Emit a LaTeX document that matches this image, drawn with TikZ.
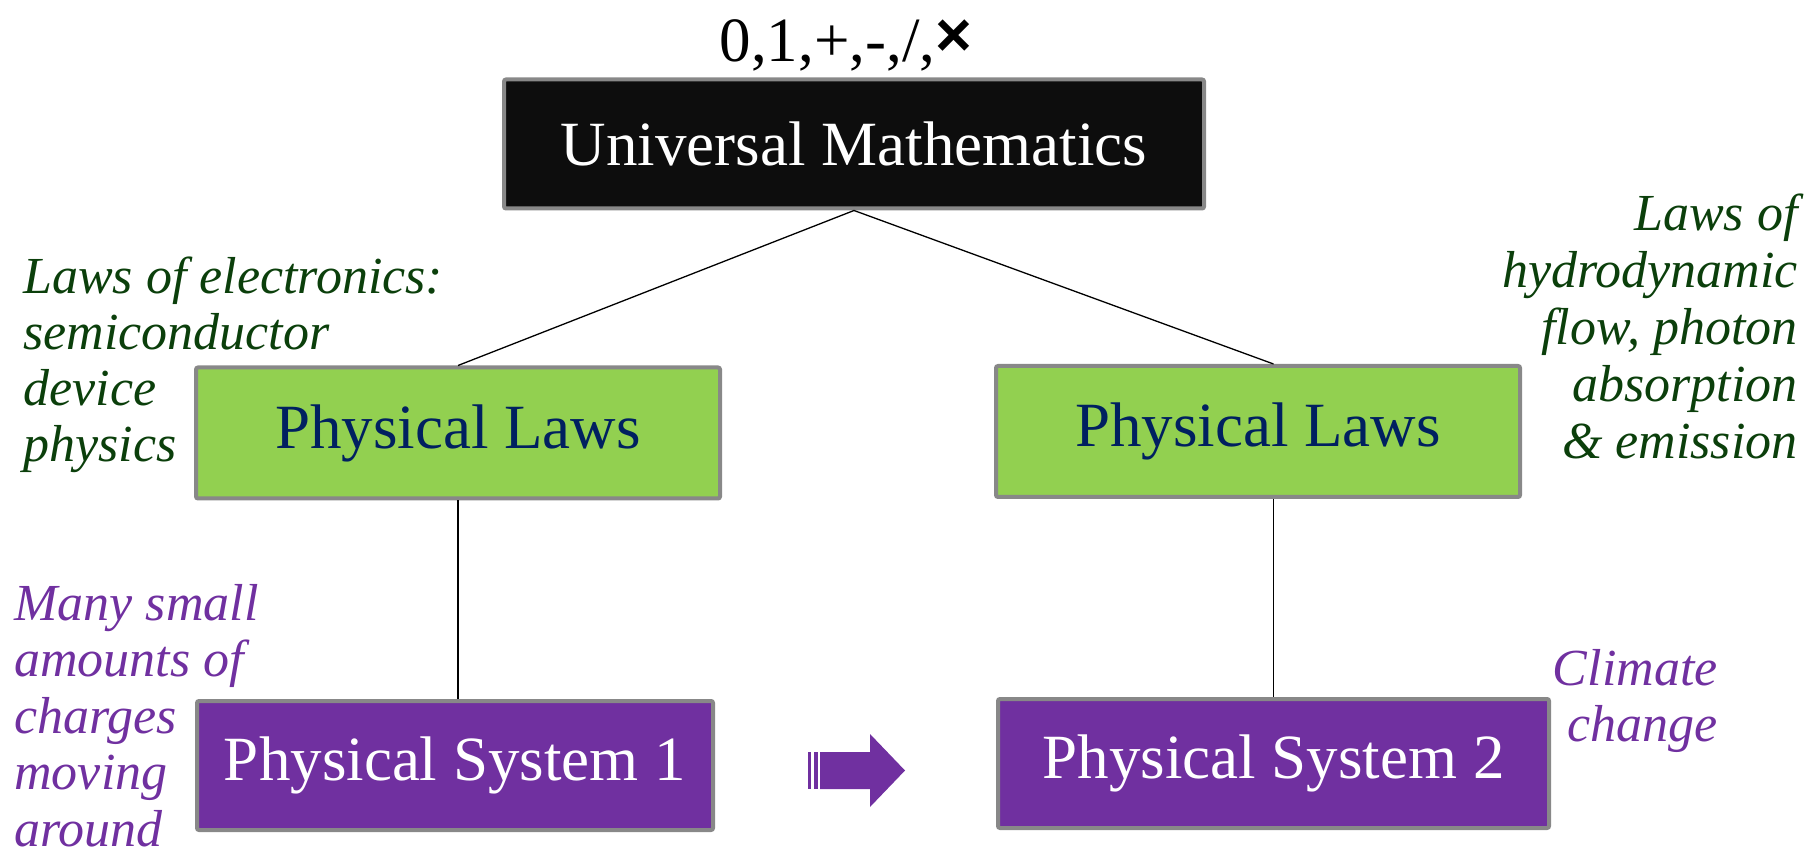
\documentclass[tikz,border=0pt]{standalone}
\usepackage{fontspec}
\setmainfont{Liberation Serif}
\newfontfamily\crossfont{Liberation Sans}
\definecolor{boxgray}{HTML}{888888}
\definecolor{lawgreen}{HTML}{92D050}
\definecolor{sysviolet}{HTML}{7030A0}
\definecolor{navytext}{HTML}{002060}
\definecolor{notegreen}{HTML}{0B3F0B}
\definecolor{mathblack}{HTML}{0D0D0D}
\tikzset{
  boxbase/.style={draw=boxgray, line width=2pt, rounded corners=1pt, inner sep=0pt,
    font=\fontsize{31.5pt}{36pt}\selectfont},
  mathbox/.style={boxbase, fill=mathblack, text=white, minimum width=350pt, minimum height=64.5pt},
  lawbox/.style={boxbase, fill=lawgreen, text=navytext, minimum height=65.5pt},
  sysbox/.style={boxbase, fill=sysviolet, text=white, minimum height=64.5pt},
  note/.style={inner sep=0pt, font=\fontsize{26pt}{28pt}\selectfont\itshape},
  link/.style={draw=black, line width=0.65pt},
}
\begin{document}
\begin{tikzpicture}[x=0.5pt,y=-0.5pt]
\useasboundingbox (0,0) rectangle (1818,854);
% boxes
\node[mathbox] (um) at (854,144) {Universal Mathematics};
\node[lawbox, minimum width=262pt] (gl) at (458,433) {Physical Laws};
\node[lawbox, minimum width=262pt] (gr) at (1258,431.5) {Physical Laws};
\node[sysbox, minimum width=258pt] (pl) at (455,765.5) {Physical System 1};
\node[sysbox, minimum width=275.5pt] (pr) at (1273.5,763.5) {Physical System 2};
% top label
\node[inner sep=0pt, anchor=base, font=\fontsize{31.5pt}{36pt}\selectfont] (ops) at (846,62)
  {0,1,+,-,/,{\crossfont\bfseries\raisebox{0.08em}{×}}};
% connectors
\draw[link] (um.south) -- (gl.north);
\draw[link] (um.south) -- (gr.north -| pr.north);
\draw[link] (gl.south) -- (gl.south |- pl.north);
\draw[link] (gr.south -| pr.north) -- (pr.north);
% notes
\node[note, text=notegreen, anchor=base west] (nl) at (23,294)
  {\vtop{\baselineskip=28pt\halign{#\hfil\cr Laws of electronics:\cr semiconductor\cr device\cr physics\cr}}};
\node[note, text=notegreen, anchor=base east] (nr) at (1798,231)
  {\vtop{\baselineskip=28.4pt\halign{\hfil#\cr Laws of\cr hydrodynamic\cr flow, photon\cr absorption\cr \& emission\cr}}};
\node[note, text=sysviolet, anchor=base west] (pnl) at (14,620)
  {\vtop{\baselineskip=28.3pt\halign{#\hfil\cr Many small\cr amounts of\cr charges\cr moving\cr around\cr}}};
\node[note, text=sysviolet, anchor=base east] (pnr) at (1718,685)
  {\vtop{\baselineskip=28.4pt\halign{\hfil#\cr Climate\cr change\cr}}};
% block arrow
\fill[sysviolet] (808,752) rectangle (811,789);
\fill[sysviolet] (813.5,752) rectangle (817.5,789);
\fill[sysviolet] (820,752) -- (870,752) -- (870,734) -- (905,770.5) -- (870,807) -- (870,789) -- (820,789) -- cycle;
\end{tikzpicture}
\end{document}
